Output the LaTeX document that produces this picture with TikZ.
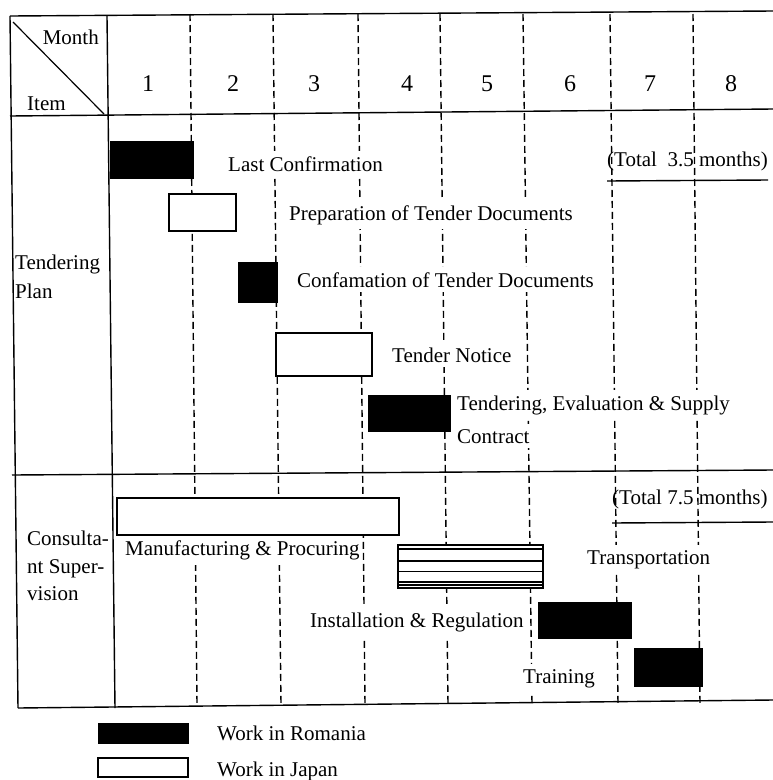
\documentclass[tikz,border=0pt]{standalone}
\usepackage{fontspec}
\setmainfont{Liberation Serif}
\begin{document}
\begin{tikzpicture}[x=1pt,y=-1pt,
  frameline/.style={line width=1.4pt},
  gridline/.style={line width=1.4pt, dash pattern=on 7pt off 4pt},
  rbar/.style={fill=black, draw=black, line width=1pt},
  jbar/.style={fill=white, draw=black, line width=1.2pt},
  lbl/.style={anchor=base west, fill=white, inner xsep=2pt, inner ysep=5pt, font=\fontsize{21}{24}\selectfont},
  plain/.style={anchor=base west, inner sep=0pt, font=\fontsize{21}{24}\selectfont},
  num/.style={anchor=base, inner sep=0pt, font=\fontsize{24}{28}\selectfont}]
\useasboundingbox (0,0) rectangle (773,780);
% month grid (dashed)
\foreach \xt/\xb in {190/197,273/281,358/365,440/448,523/532,610/618,693/700}
  \draw[gridline] (\xt,14) -- (\xb,704);
% labels (white background interrupts the grid)
\node[lbl] (l1) at (226,171) {Last Confirmation};
\node[lbl] (l2) at (287,220) {Preparation of Tender Documents};
\node[lbl] (l3) at (295,287) {Confamation of Tender Documents};
\node[lbl] (l4) at (390,362) {Tender Notice};
\node[lbl] (l5) at (455,410) {Tendering, Evaluation \& Supply};
\node[lbl] (l5b) at (455,443) {Contract};
\node[lbl] (l6) at (123,555) {Manufacturing \& Procuring};
\node[lbl] (l7) at (585,564) {Transportation};
\node[lbl] (l8) at (308,627) {Installation \& Regulation};
\node[lbl] (l9) at (521,683) {Training};
% bars
\path[rbar] (110,141) rectangle (193,178);
\path[jbar] (169,194) rectangle (236,231);
\path[rbar] (238,262) rectangle (277,302);
\path[jbar] (276,333) rectangle (372,376);
\path[rbar] (368,395) rectangle (450,431);
\path[jbar] (117,498) rectangle (399,535);
\path[jbar] (398,545) rectangle (543,588);
\foreach \y in {549,561,571.5,582,585}
  \draw[line width=1.2pt] (398,\y) -- (543,\y);
\path[rbar] (538,602) rectangle (631,638);
\path[rbar] (634,648) rectangle (702,686);
% frame
\draw[frameline] (10,16) -- (773,11);
\draw[frameline] (10,116) -- (773,109);
\draw[frameline] (12,475) -- (773,470);
\draw[frameline] (18,708) -- (773,700);
\draw[frameline] (10,16) -- (18,708);
\draw[frameline] (107,16) -- (115,708);
\draw[line width=1.2pt] (13,22) -- (104,114);
% header
\node[anchor=base east, inner sep=0pt, font=\fontsize{21}{24}\selectfont] (month) at (99,44) {Month};
\node[plain] (item) at (27,110) {Item};
\foreach \n/\x in {1/148,2/233,3/314,4/407,5/487,6/570,7/650,8/731}
  \node[num] (m\n) at (\x,91) {\n};
% row heads
\node[plain] (tp1) at (15,269) {Tendering};
\node[plain] (tp2) at (15,298) {Plan};
\node[plain] (cs1) at (27,545) {Consulta-};
\node[plain] (cs2) at (27,573) {nt Super-};
\node[plain] (cs3) at (27,600) {vision};
% totals
\node[plain] (t1) at (607,166) {(Total\ \ 3.5 months)};
\draw[frameline] (607,181) -- (768,180);
\node[plain] (t2) at (612,504) {(Total 7.5 months)};
\draw[frameline] (612,523) -- (773,522);
% legend
\path[rbar] (98,723) rectangle (188,743);
\path[jbar] (98,758) rectangle (188,777);
\node[plain] (lg1) at (217,740) {Work in Romania};
\node[plain] (lg2) at (217,776) {Work in Japan};
\end{tikzpicture}
\end{document}
